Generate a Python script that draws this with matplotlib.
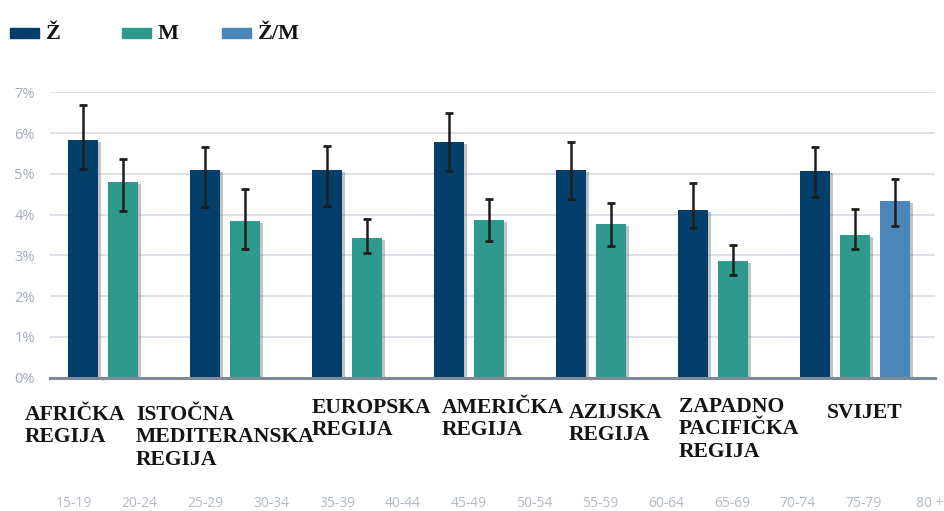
import matplotlib
matplotlib.use("Agg")
import matplotlib.pyplot as plt
import matplotlib.patheffects as pe
from matplotlib.patches import Rectangle
import numpy as np

# ---- data ----
regions = ["AFRIČKA\nREGIJA", "ISTOČNA\nMEDITERANSKA\nREGIJA", "EUROPSKA\nREGIJA",
           "AMERIČKA\nREGIJA", "AZIJSKA\nREGIJA", "ZAPADNO\nPACIFIČKA\nREGIJA", "SVIJET"]
series_names = ["Ž", "M", "Ž/M"]
z_val  = [5.84, 5.09, 5.10, 5.77, 5.09, 4.12, 5.08]
z_low  = [5.12, 4.19, 4.20, 5.06, 4.38, 3.67, 4.43]
z_high = [6.69, 5.66, 5.67, 6.50, 5.77, 4.78, 5.66]
m_val  = [4.79, 3.84, 3.42, 3.86, 3.77, 2.86, 3.50]
m_low  = [4.08, 3.15, 3.06, 3.35, 3.23, 2.51, 3.15]
m_high = [5.36, 4.63, 3.89, 4.38, 4.28, 3.25, 4.14]
zm_val  = [4.34]
zm_low  = [3.73]
zm_high = [4.87]
y_ticks = [0, 1, 2, 3, 4, 5, 6, 7]
age_labels = ["15-19", "20-24", "25-29", "30-34", "35-39", "40-44", "45-49",
              "50-54", "55-59", "60-64", "65-69", "70-74", "75-79", "80 +"]

# ---- style ----
C_Z = "#023f6a"
C_M = "#2e9a8e"
C_ZM = "#4b86b8"
W, H = 944, 511

fig = plt.figure(figsize=(W / 100, H / 100), dpi=100)
ax = fig.add_axes([50 / W, 1 - 377.5 / H, (935 - 50) / W, (377.5 - 92.3) / H])

step = 40 / 122
bw = 30 / 122
x = np.arange(len(regions))
shadow = [pe.withSimplePatchShadow(offset=(2.5, -1.5), shadow_rgbFace="#7a7a7a", alpha=0.45), pe.Normal()]

def draw(xs, vals, lows, highs, color):
    bars = ax.bar(xs, vals, width=bw, color=color, zorder=3)
    for b in bars:
        b.set_path_effects(shadow)
    vals = np.array(vals); lows = np.array(lows); highs = np.array(highs)
    ax.errorbar(xs, vals, yerr=[vals - lows, highs - vals], fmt="none",
                ecolor="#1e1e1e", elinewidth=1.8, capsize=3, capthick=2, zorder=4)

draw(x, z_val, z_low, z_high, C_Z)
draw(x + step, m_val, m_low, m_high, C_M)
draw(x[-1:] + 2 * step, zm_val, zm_low, zm_high, C_ZM)

ax.set_xlim((50 - 83) / 122, (935 - 83) / 122)
ax.set_ylim(0, 7)
ax.set_yticks(y_ticks)
ax.set_yticklabels([f"{t}%" for t in y_ticks], fontfamily="Open Sans", fontsize=10.5, color="#a3abb9")
ax.tick_params(axis="y", length=0, pad=11)
ax.set_xticks([])
for s in ["top", "right", "left", "bottom"]:
    ax.spines[s].set_visible(False)
ax.yaxis.grid(True, color="#d6dbe4", lw=1.2, zorder=0)
ax.set_axisbelow(True)
ax.axhline(0, color="#7d8a99", lw=2.2, zorder=5, clip_on=False)

# region labels
label_pos = [(25, 405), (136, 405), (312, 398), (442, 398), (569, 403), (679, 397), (827, 403)]
for lab, (px, py) in zip(regions, label_pos):
    fig.text(px / W, 1 - py / H, lab, ha="left", va="top", fontfamily="Liberation Serif",
             fontweight="bold", fontsize=15.6, color="#141414", linespacing=1.15)

# age labels (remnant axis)
for i, a in enumerate(age_labels):
    fig.text((74 + 65.8 * i) / W, 1 - 503 / H, a, ha="center", va="center",
             fontfamily="Open Sans", fontsize=10, color="#b3b9c4")

# legend
leg_items = [(10, C_Z), (122, C_M), (222, C_ZM)]
for (px, col), name in zip(leg_items, series_names):
    fig.patches.append(Rectangle((px / W, 1 - 38.5 / H), 29 / W, 10 / H,
                                 transform=fig.transFigure, color=col, figure=fig))
    fig.text((px + 36) / W, 1 - 34 / H, name, ha="left", va="center",
             fontfamily="Liberation Serif", fontweight="bold", fontsize=16, color="#141414")

fig.savefig("out.png", dpi=100)
